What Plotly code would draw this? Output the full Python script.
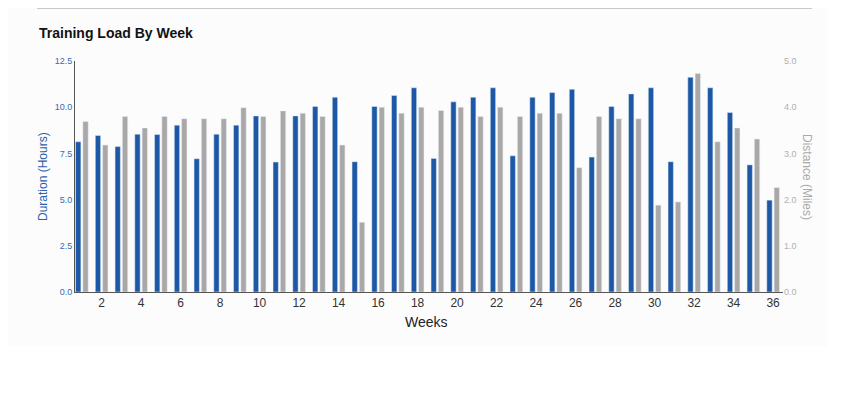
import plotly.graph_objects as go

weeks = list(range(1, 37))
duration_hours = [8.13, 8.47, 7.87, 8.54, 8.52, 9.03, 7.21, 8.54, 9.03, 9.53, 7.03, 9.53,
                  10.04, 10.54, 7.05, 10.04, 10.63, 11.05, 7.23, 10.29, 10.54, 11.05, 7.37, 10.54,
                  10.79, 10.97, 7.30, 10.04, 10.72, 11.05, 7.05, 11.62, 11.05, 9.71, 6.88, 4.97]
distance_miles = [3.69, 3.18, 3.80, 3.55, 3.80, 3.75, 3.75, 3.75, 3.99, 3.80, 3.92, 3.87,
                  3.80, 3.18, 1.51, 4.00, 3.87, 4.00, 3.93, 4.00, 3.80, 4.00, 3.80, 3.87,
                  3.87, 2.69, 3.80, 3.75, 3.75, 1.88, 1.95, 4.73, 3.25, 3.55, 3.31, 2.26]

# page offset (body margin) compensation
OFF = 8
W, H = 846, 393
L, R, T, B = 75 - OFF, 63 + OFF, 61 - OFF, 101 + OFF
PW, PH = W - L - R, H - T - B

def px(x):
    return (x - OFF - L) / PW

def py(y):
    return (H - B - (y - OFF)) / PH

BLUE = "#1c58a6"
GRAY = "#aaa7a7"
FONT = "Liberation Sans, Arial, sans-serif"

fig = go.Figure()
fig.add_trace(go.Bar(x=weeks, y=duration_hours, name="Duration", marker_color=BLUE,
                     width=0.27, offset=-0.32, yaxis="y"))
fig.add_trace(go.Bar(x=weeks, y=distance_miles, name="Distance", marker_color=GRAY,
                     width=0.27, offset=0.05, yaxis="y2"))

fig.update_layout(
    width=W, height=H,
    margin=dict(l=L, r=R, t=T, b=B, pad=0),
    paper_bgcolor="white", plot_bgcolor="rgba(0,0,0,0)",
    showlegend=False,
    font=dict(family=FONT),
    barmode="overlay",
    xaxis=dict(range=[0.652, 36.5], tickmode="linear", tick0=2, dtick=2,
               showgrid=False, zeroline=False, showline=True, linecolor="#555", linewidth=1,
               ticks="", tickfont=dict(size=12, color="#333"), fixedrange=True),
    yaxis=dict(range=[0, 12.5], tickmode="linear", tick0=0, dtick=2.5, tickformat=".1f",
               showgrid=False, zeroline=False, showline=True, linecolor="#555", linewidth=1,
               ticks="", tickfont=dict(size=9, color="#3a6ab3")),
    yaxis2=dict(range=[0, 5], tickmode="linear", tick0=0, dtick=1, tickformat=".1f",
                overlaying="y", side="right", showgrid=False, zeroline=False, showline=False,
                ticks="", tickfont=dict(size=9, color="#b0b0b0")),
    shapes=[
        dict(type="rect", xref="paper", yref="paper", x0=px(0), x1=px(828), y0=py(346), y1=py(0),
             fillcolor="#fcfcfc", line=dict(width=0), layer="below"),
        dict(type="line", xref="paper", yref="paper", x0=px(37), x1=px(812), y0=py(8.5), y1=py(8.5),
             line=dict(color="#c8c8c8", width=1)),
    ],
    annotations=[
        dict(text="<b>Training Load By Week</b>", xref="paper", yref="paper", x=px(37), y=py(33),
             xanchor="left", yanchor="middle", showarrow=False, font=dict(size=14, color="#111")),
        dict(text="Duration (Hours)", xref="paper", yref="paper", x=px(43), y=py(177),
             xanchor="center", yanchor="middle", textangle=-90, showarrow=False,
             font=dict(size=12, color="#2c5fa8")),
        dict(text="Distance (Miles)", xref="paper", yref="paper", x=px(807), y=py(177),
             xanchor="center", yanchor="middle", textangle=90, showarrow=False,
             font=dict(size=12, color="#aaaaaa")),
        dict(text="Weeks", xref="paper", yref="paper", x=px(426), y=py(322),
             xanchor="center", yanchor="middle", showarrow=False,
             font=dict(size=14, color="#222")),
    ],
)

fig.write_html("out.html")
